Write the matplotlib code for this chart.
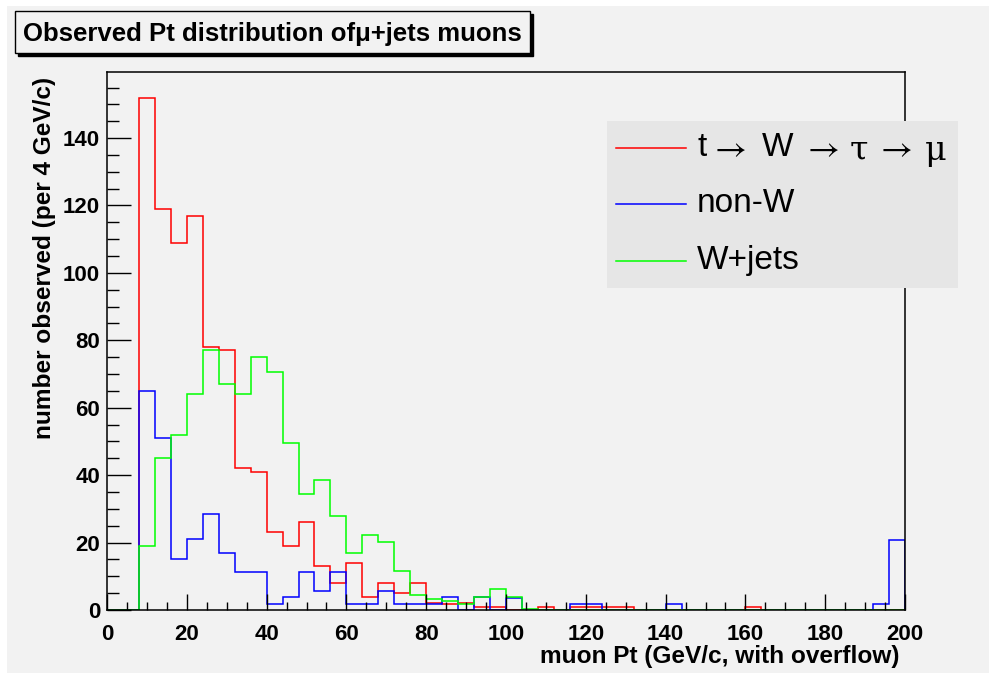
import numpy as np
import matplotlib
matplotlib.use("Agg")
import matplotlib.pyplot as plt
from matplotlib.patches import Rectangle
from matplotlib.lines import Line2D

# ---------------- data (50 bins of 4 GeV/c, 0..200) ----------------
bin_edges = np.arange(0, 204, 4)

tau_mu = [0, 0, 152, 119, 109, 117, 78, 77, 42, 41,
          23, 19, 26, 13, 8, 14, 4, 8, 5, 8,
          2, 1.7, 2, 1, 0.8, 0, 0, 0.8, 0, 0.8,
          0.8, 0.8, 0.8, 0, 0, 0, 0, 0, 0, 0,
          0.8, 0, 0, 0, 0, 0, 0, 0, 0, 0]

non_w = [0, 0, 65, 51, 15, 21, 28.5, 17, 11.3, 11.3,
         1.8, 3.8, 11.3, 5.7, 11.3, 1.8, 1.8, 5.7, 1.8, 1.8,
         1.8, 3.8, 0, 3.8, 0, 3.7, 0, 0, 0, 1.7,
         1.7, 0, 0, 0, 0, 1.7, 0, 0, 0, 0,
         0, 0, 0, 0, 0, 0, 0, 0, 1.7, 20.8]

w_jets = [0, 0, 19, 45, 52, 64, 77, 67, 64, 75,
          70.7, 49.4, 34.5, 38.7, 27.8, 17, 22.2, 20.1, 11.5, 4.5,
          3.4, 2.7, 1.7, 4.0, 6.2, 3.8, 0.3, 0, 0, 0,
          0, 0, 0, 0, 0, 0, 0, 0, 0, 0,
          0, 0, 0, 0, 0, 0, 0, 0, 0, 0]

# first label is drawn as pieces: t -> W -> tau -> mu
label_pieces = ["t", r"$\rightarrow$", "W", r"$\rightarrow$", "\u03c4", r"$\rightarrow$", "\u03bc"]
series_labels = ["t \u2192 W \u2192 \u03c4 \u2192 \u03bc", "non-W", "W+jets"]
series_colors = ["#ff0000", "#0000ff", "#00ff00"]
x_ticks = [0, 20, 40, 60, 80, 100, 120, 140, 160, 180, 200]
y_ticks = [0, 20, 40, 60, 80, 100, 120, 140]

title_text = "Observed Pt distribution of\u03bc+jets muons"
x_label = "muon Pt (GeV/c, with overflow)"
y_label = "number observed (per 4 GeV/c)"

# ---------------- figure ----------------
W, H = 989, 673
plt.rcParams['font.family'] = ['Liberation Sans', 'DejaVu Sans']

fig = plt.figure(figsize=(W / 100, H / 100), dpi=100, facecolor="white")

def fx(x):
    return x / W

def fy(y):
    return 1 - y / H

bg = "#f2f2f2"
fig.add_artist(Rectangle((fx(7), 0), 1 - fx(7), fy(6), transform=fig.transFigure,
                         facecolor=bg, edgecolor="none", zorder=0))

left, right, top, bottom = 107, 905, 72, 610
ax = fig.add_axes([fx(left), fy(bottom), fx(right) - fx(left), fy(top) - fy(bottom)])
ax.set_facecolor(bg)

for vals, col in zip([tau_mu, non_w, w_jets], series_colors):
    ax.stairs(vals, bin_edges, color=col, linewidth=1.1, baseline=0)

ax.set_xlim(0, 200)
ax.set_ylim(0, 159.6)
ax.set_xticks(x_ticks)
ax.set_yticks(y_ticks)
ax.set_xticks(np.arange(0, 201, 5), minor=True)
ax.set_yticks(np.arange(0, 160, 5), minor=True)
ax.tick_params(axis='x', which='major', direction='in', length=11.3, width=1, pad=10,
               labelsize=16, top=False)
ax.tick_params(axis='x', which='minor', direction='in', length=5.5, width=1, top=False)
ax.tick_params(axis='y', which='major', direction='in', length=17.3, width=1, pad=5,
               labelsize=16, right=False)
ax.tick_params(axis='y', which='minor', direction='in', length=8.4, width=1, right=False)
for lab in ax.get_xticklabels() + ax.get_yticklabels():
    lab.set_fontweight('bold')
for sp in ax.spines.values():
    sp.set_linewidth(1.1)
    sp.set_color("black")

# axis titles
fig.text(fx(899), fy(663), x_label, ha='right', va='baseline', fontsize=17.6,
         fontweight='bold')
fig.text(fx(45), fy(77), y_label, ha='center', va='top', rotation=90, fontsize=17.6,
         fontweight='bold')

# title box with shadow
tx0, ty0, tx1, ty1 = 15, 11, 530, 53
fig.add_artist(Rectangle((fx(tx0 + 3), fy(ty1 + 3)), fx(tx1) - fx(tx0), fy(ty0) - fy(ty1),
                         transform=fig.transFigure, facecolor="black", edgecolor="black",
                         linewidth=1, zorder=5))
fig.add_artist(Rectangle((fx(tx0), fy(ty1)), fx(tx1) - fx(tx0), fy(ty0) - fy(ty1),
                         transform=fig.transFigure, facecolor=bg, edgecolor="black",
                         linewidth=1, zorder=6))
fig.text(fx(23), fy(34), title_text, ha='left', va='center', fontsize=18.5,
         fontweight='bold', zorder=7)

# legend
lx0, ly0, lx1, ly1 = 607, 121, 958, 288
fig.add_artist(Rectangle((fx(lx0), fy(ly1)), fx(lx1) - fx(lx0), fy(ly0) - fy(ly1),
                         transform=fig.transFigure, facecolor="#e6e6e6", edgecolor="none",
                         zorder=8))
rows = [148, 204, 261]
for i, (lab, col, ry) in enumerate(zip(series_labels, series_colors, rows)):
    fig.add_artist(Line2D([fx(616), fx(686)], [fy(ry), fy(ry)], transform=fig.transFigure,
                          color=col, linewidth=1.1, zorder=9))
    if i == 0:
        piece_x = [697, 709, 762, 802, 850, 875, 925]
        for txt, px in zip(label_pieces, piece_x):
            if txt.startswith("$"):
                fig.text(fx(px), fy(ry), txt, ha='left', va='center', fontsize=25,
                         math_fontfamily='stix', zorder=9)
            elif txt in ("\u03c4", "\u03bc"):
                fig.text(fx(px), fy(ry + 3), txt, ha='left', va='center', fontsize=24,
                         family='DejaVu Serif', zorder=9)
            else:
                fig.text(fx(px), fy(ry), txt, ha='left', va='center', fontsize=24,
                         zorder=9)
    else:
        fig.text(fx(697), fy(ry), lab, ha='left', va='center', fontsize=24, zorder=9)

fig.savefig("out.png", dpi=100, facecolor="white")
